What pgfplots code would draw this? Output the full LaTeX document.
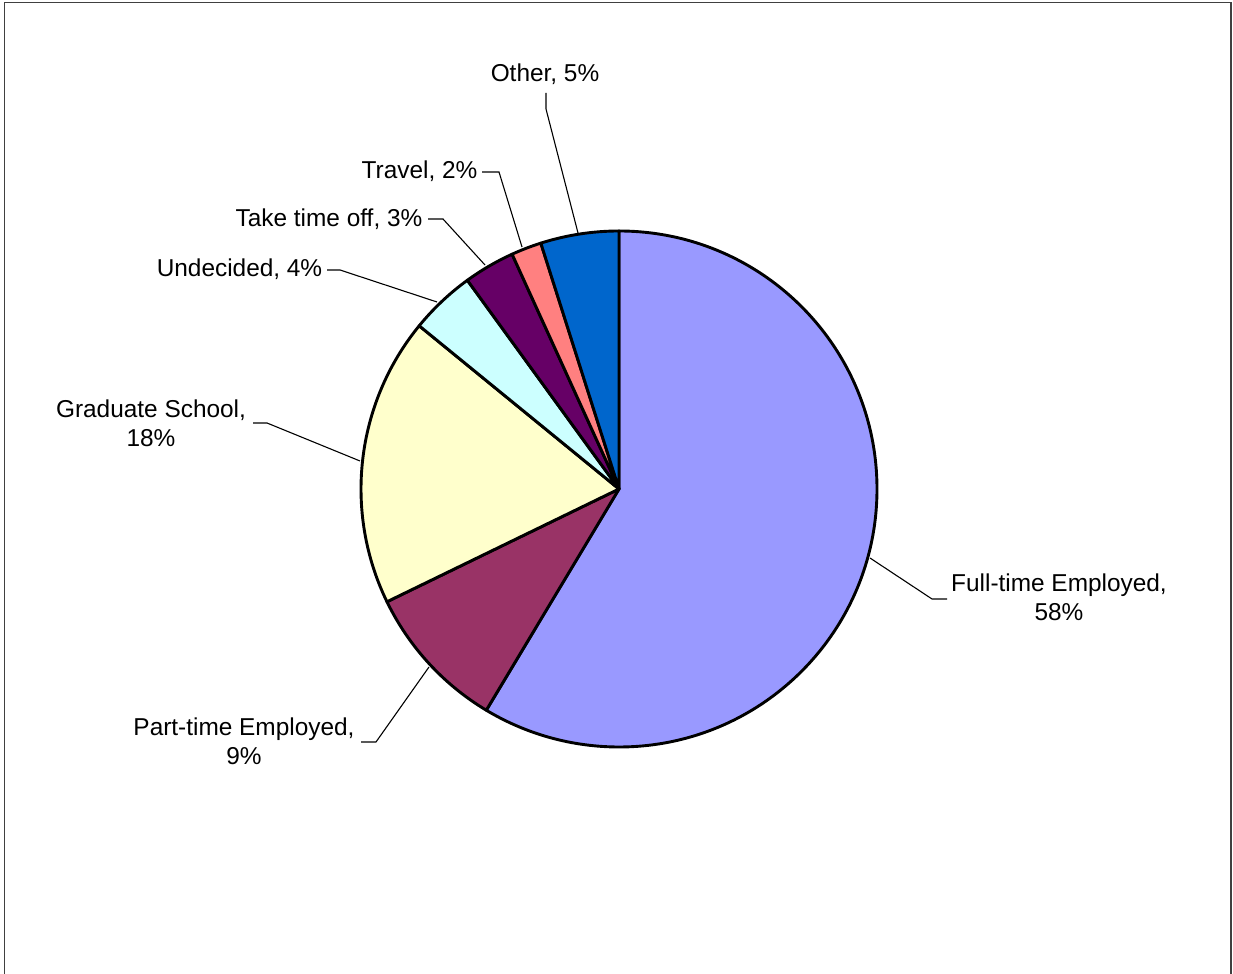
\documentclass[border=0pt]{standalone}
\usepackage{pgfplots}
\pgfplotsset{compat=1.18}
\usepackage{pgfplotstable}
\usepackage{fontspec}
\setmainfont{Liberation Sans}

\definecolor{cFull}{HTML}{9999FF}
\definecolor{cPart}{HTML}{993366}
\definecolor{cGrad}{HTML}{FFFFCC}
\definecolor{cUndec}{HTML}{CCFFFF}
\definecolor{cOff}{HTML}{660066}
\definecolor{cTravel}{HTML}{FF8080}
\definecolor{cOther}{HTML}{0066CC}

% shares in percent, clockwise from 12 o'clock
\pgfplotstableread{
slice value colour
Full   58.6 cFull
Part    9.2 cPart
Grad   18.1 cGrad
Undec   4.1 cUndec
Off     3.2 cOff
Travel  1.9 cTravel
Other   4.9 cOther
}\pietable

\begin{document}
\begin{tikzpicture}[font=\fontsize{12.2}{14.8}\selectfont]
% start/end angle of each slice
\def\cum{90}
\pgfplotsforeachungrouped \i in {0,...,6}{%
  \pgfplotstablegetelem{\i}{value}\of\pietable
  \pgfmathsetmacro\angend{\cum-3.6*\pgfplotsretval}%
  \expandafter\xdef\csname sa\i\endcsname{\cum}%
  \expandafter\xdef\csname ea\i\endcsname{\angend}%
  \pgfplotstablegetelem{\i}{colour}\of\pietable
  \expandafter\xdef\csname co\i\endcsname{\pgfplotsretval}%
  \xdef\cum{\angend}%
}
\begin{axis}[
  x=0.5pt, y=0.5pt,
  xmin=-619, xmax=614,
  ymin=-485, ymax=489,
  hide axis,
  clip=true,
]
\path (axis cs:-619,-485) rectangle (axis cs:614,489);
% outer frame (bottom edge falls outside the picture)
\draw[black!75, line width=0.7pt]
  (axis cs:-614.5,-486) -- (axis cs:-614.5,486.5) -- (axis cs:612,486.5) -- (axis cs:612,-486);

\pgfplotsinvokeforeach{0,...,6}{%
  \edef\slice{\noexpand\filldraw[fill=\csname co#1\endcsname, draw=black,
      line width=1.45pt, line join=round]
    (axis cs:0,0) -- ++(\csname sa#1\endcsname:129pt)
    arc[start angle=\csname sa#1\endcsname, end angle=\csname ea#1\endcsname, radius=129pt]
    -- cycle;}%
  \slice
}

% leader lines
\begin{scope}[black, line width=0.55pt]
\draw (axis cs:-73,396) -- (axis cs:-73,380) -- (axis cs:-41,256);
\draw (axis cs:-137,317) -- (axis cs:-120,317) -- (axis cs:-97,242);
\draw (axis cs:-191,270) -- (axis cs:-176,270) -- (axis cs:-134,224);
\draw (axis cs:-292,219) -- (axis cs:-279,219) -- (axis cs:-182,187);
\draw (axis cs:-366,66) -- (axis cs:-352,66) -- (axis cs:-259,28);
\draw (axis cs:-258,-253) -- (axis cs:-243,-253) -- (axis cs:-190,-178);
\draw (axis cs:251,-69) -- (axis cs:313,-110) -- (axis cs:328,-110);
\end{scope}

% labels
\node[anchor=base, inner sep=0pt] at (axis cs:-74,407) {Other, 5\%};
\node[anchor=base, inner sep=0pt] at (axis cs:-199.5,310) {Travel, 2\%};
\node[anchor=base, inner sep=0pt] at (axis cs:-290,262) {Take time off, 3\%};
\node[anchor=base, inner sep=0pt] at (axis cs:-379.5,212) {Undecided, 4\%};
\node[anchor=north, inner sep=0pt, align=center] at (axis cs:-468,90) {Graduate School,\\18\%};
\node[anchor=north, inner sep=0pt, align=center] at (axis cs:-375,-228) {Part-time Employed,\\9\%};
\node[anchor=north, inner sep=0pt, align=center] at (axis cs:440,-84) {Full-time Employed,\\58\%};
\end{axis}
\end{tikzpicture}
\end{document}
